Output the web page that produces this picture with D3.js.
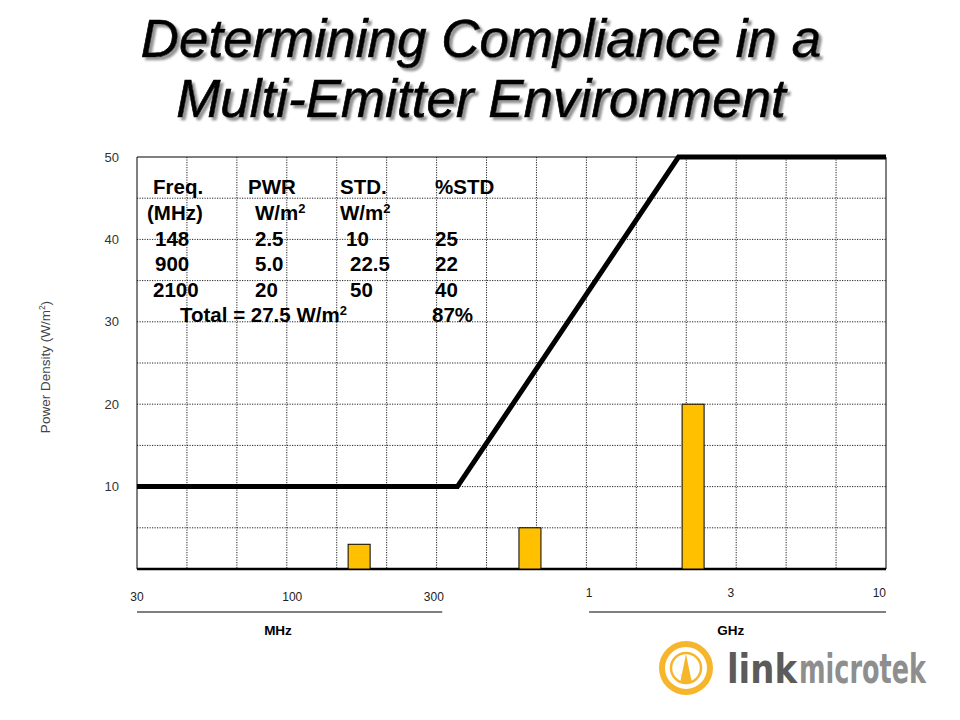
<!DOCTYPE html>
<html>
<head>
<meta charset="utf-8">
<script src="https://cdn.jsdelivr.net/npm/d3@7"></script>
<style>
  body { margin: 0; background: #fff; }
  svg { display: block; font-family: "Liberation Sans", Arial, sans-serif; }
</style>
</head>
<body>
<svg id="chart" width="960" height="720"></svg>
<script>
// chart data
const barFreq = [168, 632, 2240];      // MHz, where the bars sit on the axis
const barValue = [3, 5, 20];           // W/m2
const limitFreq = [30, 360, 2000, 10000];
const limitValue = [10, 10, 50, 50];
const yTicks = [10, 20, 30, 40, 50];
const yGrid = [5, 10, 15, 20, 25, 30, 35, 40, 45];
const xTickValues = [30, 100, 300, 1000, 3000, 10000];
const xTickLabels = ["30", "100", "300", "1", "3", "10"];

// the table in the corner
const tableHead = ["Freq.", "PWR", "STD.", "%STD"];
const tableUnits = ["(MHz)", "W/m^2", "W/m^2"];
const tableFreq = ["148", "900", "2100"];
const tablePwr = ["2.5", "5.0", "20"];
const tableStd = ["10", "22.5", "50"];
const tablePct = ["25", "22", "40"];
const tableTotal = ["Total = 27.5 W/m^2", "87%"];

const svg = d3.select("#chart");
const pLeft = 137, pRight = 886, pTop = 157, pBottom = 569;

const x = d3.scaleLog().domain([30, 10000]).range([pLeft, pRight]);
const y = d3.scaleLinear().domain([0, 50]).range([pBottom, pTop]);
const col = d3.scaleLinear().domain([0, 15]).range([pLeft, pRight]);

// drop shadow for the title
const shadow = svg.append("defs").append("filter")
    .attr("id", "shadow")
    .attr("x", "-5%").attr("y", "-20%")
    .attr("width", "115%").attr("height", "150%");
shadow.append("feDropShadow")
    .attr("dx", 3).attr("dy", 3)
    .attr("stdDeviation", 0.8)
    .attr("flood-color", "#888")
    .attr("flood-opacity", 0.9);

const title = ["Determining Compliance in a", "Multi-Emitter Environment"];
svg.selectAll("text.title")
    .data(title)
    .enter()
    .append("text")
    .attr("class", "title")
    .attr("x", 481)
    .attr("y", (d, i) => 57 + i * 60)
    .attr("text-anchor", "middle")
    .attr("font-size", 53)
    .attr("font-style", "italic")
    .attr("fill", "#000")
    .attr("stroke", "#000")
    .attr("stroke-width", 0.7)
    .attr("filter", "url(#shadow)")
    .text(d => d);

// grid
svg.selectAll("line.hgrid")
    .data(yGrid)
    .enter()
    .append("line")
    .attr("class", "hgrid")
    .attr("x1", pLeft).attr("x2", pRight)
    .attr("y1", d => y(d)).attr("y2", d => y(d))
    .attr("stroke", "#222")
    .attr("stroke-dasharray", "1.2,1.3");

svg.selectAll("line.vgrid")
    .data(d3.range(1, 15))
    .enter()
    .append("line")
    .attr("class", "vgrid")
    .attr("x1", d => col(d)).attr("x2", d => col(d))
    .attr("y1", pTop).attr("y2", pBottom)
    .attr("stroke", "#222")
    .attr("stroke-dasharray", "1.2,1.3");

// frame
svg.append("path")
    .attr("d", `M${pLeft},${pBottom}V${pTop}H${pRight}V${pBottom}`)
    .attr("fill", "none")
    .attr("stroke", "#000")
    .attr("stroke-width", 1);
svg.append("line")
    .attr("x1", pLeft).attr("x2", pRight)
    .attr("y1", pBottom).attr("y2", pBottom)
    .attr("stroke", "#000")
    .attr("stroke-width", 2.5);

// bars
svg.selectAll("rect.bar")
    .data(barFreq)
    .enter()
    .append("rect")
    .attr("class", "bar")
    .attr("x", d => x(d) - 11)
    .attr("width", 22)
    .attr("y", (d, i) => y(barValue[i]))
    .attr("height", (d, i) => y(0) - y(barValue[i]))
    .attr("fill", "#ffc000")
    .attr("stroke", "#000")
    .attr("stroke-width", 1);

// limit line
const line = d3.line()
    .x(d => x(d[0]))
    .y(d => y(d[1]));
svg.append("path")
    .datum(limitFreq.map((f, i) => [f, limitValue[i]]))
    .attr("d", line)
    .attr("fill", "none")
    .attr("stroke", "#000")
    .attr("stroke-width", 5);

// y ticks
svg.selectAll("text.ytick")
    .data(yTicks)
    .enter()
    .append("text")
    .attr("class", "ytick")
    .attr("x", 119)
    .attr("y", d => y(d))
    .attr("dy", "0.35em")
    .attr("text-anchor", "end")
    .attr("font-size", 13)
    .attr("fill", "#333")
    .text(d => d);

const yLabel = svg.append("text")
    .attr("transform", "translate(50,367) rotate(-90)")
    .attr("text-anchor", "middle")
    .attr("font-size", 13.5)
    .attr("fill", "#444");
yLabel.append("tspan").text("Power Density (W/m");
yLabel.append("tspan").attr("font-size", 8.5).attr("dy", -5).text("2");
yLabel.append("tspan").attr("dy", 5).text(")");

// x tick labels
svg.selectAll("text.xtick")
    .data(xTickValues)
    .enter()
    .append("text")
    .attr("class", "xtick")
    .attr("x", d => x(d))
    .attr("y", d => d < 1000 ? 601 : 597)
    .attr("text-anchor", (d, i) => i === xTickValues.length - 1 ? "end" : "middle")
    .attr("font-size", 12)
    .attr("fill", "#222")
    .text((d, i) => xTickLabels[i]);

[[30, 320, "MHz", 278], [1000, 10000, "GHz", x(3000)]].forEach(([a, b, label, cx]) => {
    svg.append("line")
        .attr("x1", x(a)).attr("x2", x(b))
        .attr("y1", 612).attr("y2", 612)
        .attr("stroke", "#000");
    svg.append("text")
        .attr("x", cx).attr("y", 635)
        .attr("text-anchor", "middle")
        .attr("font-size", 13.5)
        .attr("font-weight", "bold")
        .text(label);
});

// table text, "^2" becomes a superscript
const addText = (str, px, py) => {
    const t = svg.append("text")
        .attr("x", px).attr("y", py)
        .attr("font-size", 20.5)
        .attr("font-weight", "bold");
    const parts = str.split("^2");
    t.append("tspan").text(parts[0]);
    if (parts.length > 1) {
        t.append("tspan").attr("font-size", 13).attr("dy", -7).text("2");
        if (parts[1]) t.append("tspan").attr("dy", 7).text(parts[1]);
    }
};

const rowY = [194, 220, 246, 271, 297, 322];
const headX = [153, 248, 340, 435];
const unitX = [147, 255, 340];
const dataX = [[155, 255, 346, 435], [155, 255, 350, 435], [153, 255, 350, 435]];

tableHead.forEach((d, i) => addText(d, headX[i], rowY[0]));
tableUnits.forEach((d, i) => addText(d, unitX[i], rowY[1]));
tableFreq.forEach((d, r) => {
    [d, tablePwr[r], tableStd[r], tablePct[r]].forEach((v, c) => addText(v, dataX[r][c], rowY[r + 2]));
});
addText(tableTotal[0], 180, rowY[5]);
addText(tableTotal[1], 432, rowY[5]);

// logo
const logo = svg.append("g").attr("transform", "translate(686,668)");
logo.append("circle").attr("r", 24).attr("fill", "none").attr("stroke", "#f7b52c").attr("stroke-width", 6);
logo.append("circle").attr("r", 15).attr("fill", "none").attr("stroke", "#f7b52c").attr("stroke-width", 2.5);
logo.append("path").attr("d", "M0,-14L6,15H-6Z").attr("fill", "#f7b52c");

// squeeze each word horizontally to fit its slot
[["link", 727, 70, "#5b5b5b"], ["microtek", 799, 127, "#8e8e8e"]].forEach(([word, bx, w, c]) => {
    const t = svg.append("text")
        .attr("font-family", "'DejaVu Sans Condensed', 'DejaVu Sans', sans-serif")
        .attr("font-weight", "bold")
        .attr("font-size", 40)
        .attr("fill", c)
        .text(word);
    const len = t.node().getComputedTextLength() || w;
    t.attr("transform", `translate(${bx},683) scale(${w / len},1)`);
});
</script>
</body>
</html>
